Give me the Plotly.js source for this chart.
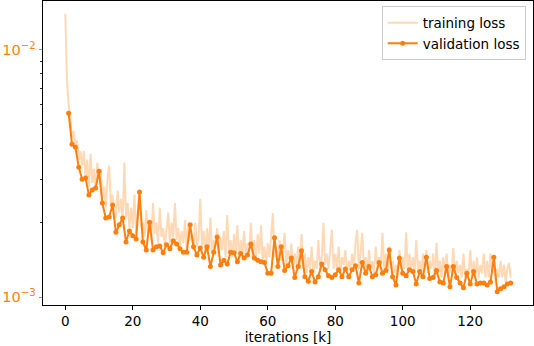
<!DOCTYPE html>
<html>
<head>
<meta charset="utf-8">
<script src="https://cdn.plot.ly/plotly-3.0.1.min.js"></script>
<style>html,body{margin:0;padding:0;background:#fff}#chart{width:534px;height:346px}</style>
</head>
<body>
<div id="chart"></div>
<script>
// training loss, sampled every 0.5k iterations (values in units of 1e-3)
const trainIterStep = 0.5;
const trainLossE3 = [
  14.0, 7.6, 6.0, 5.3, 4.4, 4.7, 4.0, 4.3, 3.6, 3.9,
  3.4, 3.9, 3.0, 3.6, 2.8, 3.8, 2.9, 3.3, 2.7, 3.5,
  3.0, 3.3, 2.5, 2.8, 2.3, 3.0, 3.4, 2.4, 2.6, 2.2,
  2.1, 2.7, 2.2, 2.5, 2.0, 3.5, 2.1, 2.4, 1.9, 2.3,
  1.9, 2.6, 1.8, 2.2, 2.7, 1.9, 2.0, 1.75, 2.25, 1.8,
  2.0, 1.7, 2.4, 1.8, 2.0, 1.65, 2.3, 1.75, 1.9, 1.6,
  1.85, 2.2, 1.65, 2.0, 1.75, 2.4, 1.7, 1.9, 1.6, 1.85,
  1.65, 2.05, 1.55, 1.95, 1.7, 1.8, 1.55, 2.0, 1.6, 1.75,
  2.5, 1.6, 1.85, 1.5, 1.9, 1.55, 2.1, 1.5, 1.7, 1.6,
  1.9, 1.45, 1.75, 1.55, 1.85, 1.45, 2.15, 1.5, 1.7, 1.45,
  1.8, 1.5, 1.95, 1.4, 1.7, 1.5, 1.85, 1.45, 1.65, 1.5,
  2.0, 1.45, 1.7, 1.4, 1.8, 1.5, 1.95, 1.4, 1.6, 1.35,
  1.65, 1.45, 1.75, 2.19, 1.45, 1.6, 1.35, 1.7, 1.4, 1.55,
  1.82, 1.35, 1.55, 1.4, 1.65, 1.3, 1.5, 1.35, 1.6, 1.3,
  1.8, 1.3, 1.5, 1.25, 1.45, 1.3, 1.6, 1.25, 1.4, 1.3,
  1.7, 1.3, 1.45, 2.0, 1.35, 1.5, 1.3, 1.55, 1.87, 1.3,
  1.5, 1.3, 1.6, 1.25, 1.45, 1.35, 1.55, 1.25, 1.4, 1.3,
  1.5, 1.3, 1.65, 1.87, 1.3, 1.5, 1.82, 1.3, 1.45, 1.25,
  1.55, 1.3, 1.4, 1.25, 1.6, 1.3, 1.45, 1.35, 1.82, 1.3,
  1.5, 1.25, 1.6, 1.3, 1.4, 1.25, 1.35, 1.2, 1.55, 1.3,
  1.45, 1.3, 1.83, 1.25, 1.5, 1.3, 1.45, 1.25, 1.7, 1.3,
  1.4, 1.25, 1.5, 1.3, 1.55, 1.25, 1.4, 1.3, 1.5, 1.2,
  1.66, 1.25, 1.4, 1.2, 1.45, 1.25, 1.5, 1.2, 1.35, 1.25,
  1.58, 1.2, 1.4, 1.25, 1.35, 1.2, 1.5, 1.2, 1.3, 1.25,
  1.55, 1.2, 1.4, 1.2, 1.45, 1.2, 1.35, 1.25, 1.5, 1.2,
  1.4, 1.2, 1.5, 1.25, 1.35, 1.15, 1.3, 1.2, 1.4, 1.2,
  1.35, 1.15, 1.3, 1.375, 1.2
];
// validation loss, every 1k iterations starting at 1k (units of 1e-3)
const valIterStart = 1;
const valLossE3 = [
  5.54, 4.15, 4.04, 3.35, 3.00, 3.03, 2.59, 2.71, 2.76, 3.23,
  2.40, 2.09, 2.11, 2.36, 1.83, 1.96, 2.09, 1.67, 1.85, 1.77,
  1.72, 2.66, 1.67, 1.55, 2.01, 1.55, 1.60, 1.61, 1.51, 1.63,
  1.57, 1.69, 1.64, 1.57, 1.52, 1.52, 1.96, 1.60, 1.48, 1.58,
  1.45, 1.60, 1.33, 1.52, 1.75, 1.35, 1.41, 1.36, 1.52, 1.51,
  1.39, 1.50, 1.44, 1.48, 1.64, 1.44, 1.41, 1.39, 1.38, 1.25,
  1.25, 1.74, 1.33, 1.60, 1.28, 1.34, 1.44, 1.20, 1.33, 1.54,
  1.21, 1.16, 1.27, 1.15, 1.21, 1.36, 1.29, 1.22, 1.20, 1.23,
  1.29, 1.21, 1.30, 1.21, 1.29, 1.34, 1.14, 1.38, 1.25, 1.33,
  1.21, 1.23, 1.38, 1.25, 1.28, 1.55, 1.21, 1.12, 1.44, 1.25,
  1.22, 1.29, 1.27, 1.13, 1.27, 1.21, 1.45, 1.19, 1.20, 1.28,
  1.15, 1.14, 1.33, 1.10, 1.33, 1.20, 1.14, 1.09, 1.25, 1.13,
  1.27, 1.13, 1.14, 1.14, 1.12, 1.15, 1.45, 1.05, 1.08, 1.10,
  1.13, 1.14
];
const xTickVals = [0, 20, 40, 60, 80, 100, 120];
const yMajorVals = [0.001, 0.01];
const yMajorText = ['10<sup>−3</sup>', '10<sup>−2</sup>'];
const yMinorVals = [0.002, 0.003, 0.004, 0.005, 0.006, 0.007, 0.008, 0.009];
const xLabel = 'iterations [k]';

const trainX = trainLossE3.map((_, i) => i * trainIterStep);
const trainY = trainLossE3.map(v => v * 1e-3);
const valX = valLossE3.map((_, i) => valIterStart + i);
const valY = valLossE3.map(v => v * 1e-3);

const orange = '#ff7f0e';
const font = {family: 'DejaVu Sans', size: 13.5, color: '#000'};

const traces = [
  {x: trainX, y: trainY, type: 'scatter', mode: 'lines', name: 'training loss',
   line: {color: 'rgba(255,127,14,0.3)', width: 2}},
  {x: valX, y: valY, type: 'scatter', mode: 'lines+markers', name: 'validation loss',
   line: {color: orange, width: 2}, marker: {color: orange, size: 5}}
];

const layout = {
  width: 534, height: 346,
  margin: {l: 43, r: 1, t: 1, b: 41},
  paper_bgcolor: '#fff', plot_bgcolor: '#fff',
  font: font,
  showlegend: true,
  legend: {x: 0.985, y: 0.982, xanchor: 'right', yanchor: 'top',
           bgcolor: 'rgba(255,255,255,0.8)', bordercolor: '#cccccc', borderwidth: 1,
           tracegroupgap: 0, itemwidth: 30, font: font},
  xaxis: {range: [-6.6, 138.6], tickvals: xTickVals, ticks: 'outside', ticklen: 3.5,
          tickcolor: '#000', tickwidth: 1, showline: true, linecolor: '#000', linewidth: 1,
          mirror: true, showgrid: false, zeroline: false, tickfont: font,
          title: {text: xLabel, font: font, standoff: 4}},
  yaxis: {type: 'log', range: [-3.032, -1.802], tickvals: yMajorVals, ticktext: yMajorText,
          ticks: 'outside', ticklen: 3.5, tickcolor: orange, tickwidth: 1,
          showline: true, linecolor: '#000', linewidth: 1, mirror: true,
          showgrid: false, zeroline: false,
          tickfont: {family: 'DejaVu Sans', size: 14.5, color: orange},
          minor: {tickvals: yMinorVals, ticks: 'outside', ticklen: 2.5, tickcolor: '#000', tickwidth: 0.8, showgrid: false}}
};

Plotly.newPlot('chart', traces, layout, {displayModeBar: false, staticPlot: true});
</script>
</body>
</html>
